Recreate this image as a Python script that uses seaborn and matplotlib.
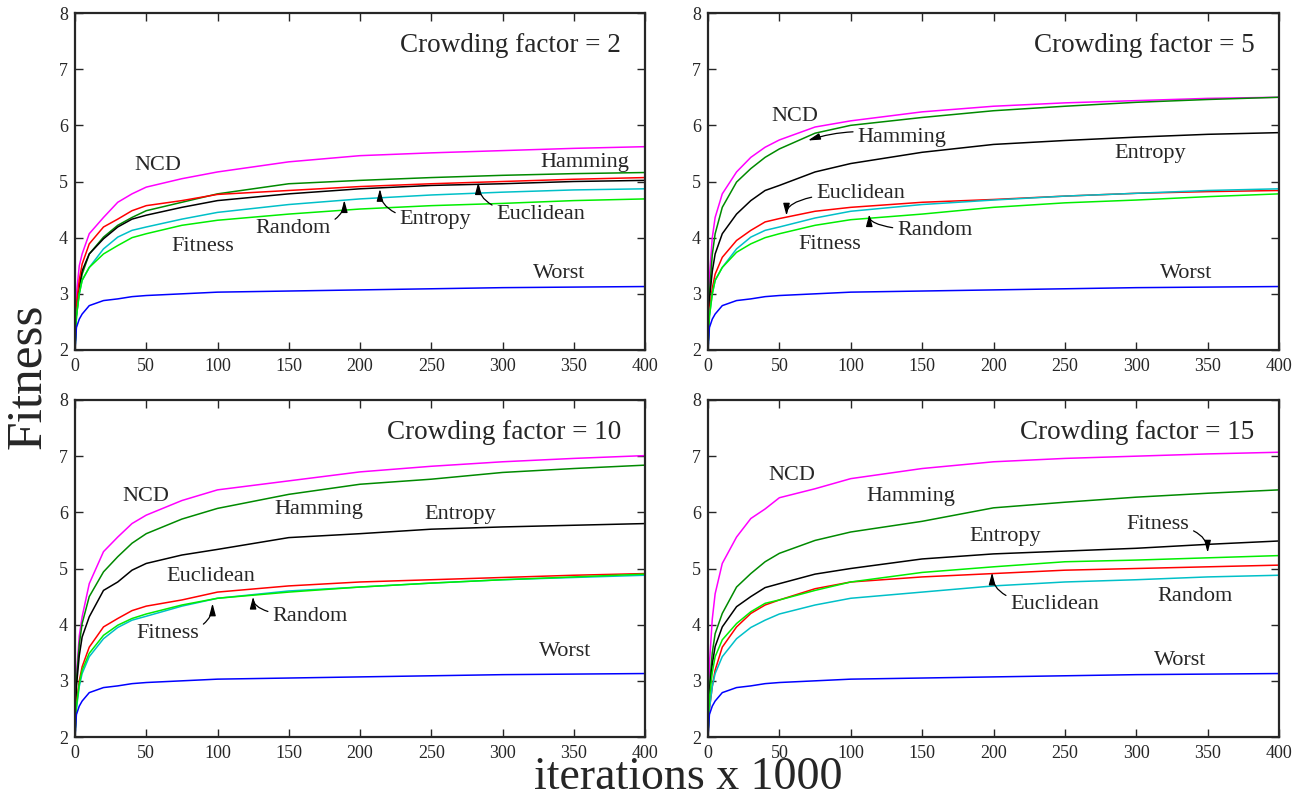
import matplotlib
matplotlib.use("Agg")
import matplotlib.pyplot as plt
import seaborn as sns
import pandas as pd

# ---------------- data ----------------
ITER = [0, 1, 3, 5, 10, 20, 30, 40, 50, 75, 100, 150, 200, 250, 300, 350, 400]
METHODS = ["NCD", "Hamming", "Entropy", "Euclidean", "Random", "Fitness", "Worst"]
COLORS = {"NCD": "#ff00ff", "Hamming": "#008a00", "Entropy": "#000000",
          "Euclidean": "#ff0000", "Random": "#00c0c8", "Fitness": "#00ee00",
          "Worst": "#0000ff"}

WORST = [2.0, 2.4, 2.55, 2.64, 2.79, 2.88, 2.91, 2.95, 2.97, 3.0, 3.03, 3.05, 3.07, 3.09, 3.11, 3.12, 3.13]

CF2_NCD = [2.0, 3.0, 3.5, 3.71, 4.07, 4.36, 4.63, 4.78, 4.90, 5.05, 5.17, 5.35, 5.46, 5.51, 5.55, 5.59, 5.62]
CF2_HAMMING = [2.0, 2.6, 3.05, 3.35, 3.71, 4.01, 4.22, 4.36, 4.48, 4.63, 4.78, 4.96, 5.02, 5.07, 5.11, 5.14, 5.16]
CF2_ENTROPY = [2.0, 2.7, 3.15, 3.41, 3.71, 3.98, 4.19, 4.33, 4.40, 4.54, 4.66, 4.78, 4.87, 4.93, 4.96, 5.0, 5.02]
CF2_EUCLIDEAN = [2.0, 2.8, 3.25, 3.53, 3.89, 4.19, 4.33, 4.48, 4.57, 4.66, 4.77, 4.84, 4.91, 4.96, 5.0, 5.04, 5.07]
CF2_RANDOM = [2.0, 2.6, 3.0, 3.24, 3.47, 3.80, 4.01, 4.13, 4.19, 4.33, 4.45, 4.59, 4.69, 4.76, 4.81, 4.85, 4.87]
CF2_FITNESS = [2.0, 2.6, 3.0, 3.24, 3.47, 3.71, 3.86, 4.0, 4.07, 4.22, 4.31, 4.42, 4.51, 4.57, 4.61, 4.66, 4.69]

CF5_NCD = [2.0, 3.3, 4.0, 4.36, 4.78, 5.17, 5.43, 5.61, 5.74, 5.97, 6.08, 6.24, 6.34, 6.40, 6.44, 6.48, 6.50]
CF5_HAMMING = [2.0, 3.0, 3.7, 4.07, 4.54, 4.99, 5.23, 5.43, 5.58, 5.86, 6.0, 6.14, 6.26, 6.34, 6.41, 6.46, 6.50]
CF5_ENTROPY = [2.0, 2.9, 3.4, 3.71, 4.07, 4.42, 4.66, 4.84, 4.93, 5.17, 5.32, 5.52, 5.66, 5.73, 5.79, 5.84, 5.87]
CF5_EUCLIDEAN = [2.0, 2.7, 3.1, 3.35, 3.65, 3.95, 4.13, 4.28, 4.34, 4.47, 4.54, 4.63, 4.68, 4.74, 4.79, 4.82, 4.84]
CF5_RANDOM = [2.0, 2.6, 3.0, 3.24, 3.47, 3.80, 4.01, 4.13, 4.19, 4.35, 4.47, 4.59, 4.67, 4.74, 4.79, 4.84, 4.87]
CF5_FITNESS = [2.0, 2.6, 3.0, 3.24, 3.47, 3.74, 3.89, 4.0, 4.07, 4.22, 4.32, 4.42, 4.54, 4.62, 4.67, 4.73, 4.78]

CF10_NCD = [2.0, 3.1, 3.8, 4.14, 4.73, 5.30, 5.56, 5.80, 5.95, 6.21, 6.40, 6.56, 6.72, 6.82, 6.90, 6.96, 7.01]
CF10_HAMMING = [2.0, 3.0, 3.65, 4.02, 4.50, 4.94, 5.21, 5.45, 5.62, 5.88, 6.07, 6.32, 6.50, 6.59, 6.71, 6.78, 6.84]
CF10_ENTROPY = [2.0, 2.9, 3.45, 3.78, 4.14, 4.61, 4.76, 4.97, 5.09, 5.24, 5.34, 5.55, 5.62, 5.70, 5.74, 5.77, 5.80]
CF10_EUCLIDEAN = [2.0, 2.6, 3.0, 3.25, 3.60, 3.96, 4.11, 4.25, 4.33, 4.44, 4.58, 4.69, 4.76, 4.80, 4.84, 4.88, 4.91]
CF10_RANDOM = [2.0, 2.5, 2.9, 3.13, 3.43, 3.75, 3.95, 4.08, 4.15, 4.33, 4.47, 4.60, 4.67, 4.74, 4.80, 4.84, 4.88]
CF10_FITNESS = [2.0, 2.55, 2.95, 3.19, 3.49, 3.81, 3.99, 4.11, 4.19, 4.35, 4.47, 4.58, 4.67, 4.74, 4.80, 4.85, 4.90]

CF15_NCD = [2.0, 3.3, 4.1, 4.55, 5.09, 5.56, 5.89, 6.06, 6.26, 6.42, 6.60, 6.78, 6.90, 6.96, 7.00, 7.04, 7.07]
CF15_HAMMING = [2.0, 2.9, 3.5, 3.84, 4.20, 4.67, 4.91, 5.12, 5.27, 5.50, 5.65, 5.84, 6.08, 6.18, 6.27, 6.34, 6.40]
CF15_ENTROPY = [2.0, 2.8, 3.3, 3.61, 3.96, 4.32, 4.50, 4.66, 4.73, 4.90, 5.0, 5.17, 5.26, 5.31, 5.36, 5.43, 5.49]
CF15_EUCLIDEAN = [2.0, 2.5, 2.9, 3.19, 3.60, 3.96, 4.20, 4.35, 4.44, 4.64, 4.76, 4.85, 4.91, 4.97, 5.0, 5.03, 5.06]
CF15_RANDOM = [2.0, 2.5, 2.9, 3.13, 3.43, 3.75, 3.95, 4.08, 4.19, 4.35, 4.47, 4.58, 4.69, 4.76, 4.80, 4.85, 4.88]
CF15_FITNESS = [2.0, 2.7, 3.15, 3.43, 3.73, 4.02, 4.23, 4.38, 4.44, 4.61, 4.76, 4.93, 5.03, 5.12, 5.15, 5.19, 5.23]

CROWDING = [2, 5, 10, 15]
PANELS = [
    [CF2_NCD, CF2_HAMMING, CF2_ENTROPY, CF2_EUCLIDEAN, CF2_RANDOM, CF2_FITNESS, WORST],
    [CF5_NCD, CF5_HAMMING, CF5_ENTROPY, CF5_EUCLIDEAN, CF5_RANDOM, CF5_FITNESS, WORST],
    [CF10_NCD, CF10_HAMMING, CF10_ENTROPY, CF10_EUCLIDEAN, CF10_RANDOM, CF10_FITNESS, WORST],
    [CF15_NCD, CF15_HAMMING, CF15_ENTROPY, CF15_EUCLIDEAN, CF15_RANDOM, CF15_FITNESS, WORST],
]

# plain labels: (text, x, y)
PLAIN = [
    [("NCD", 58, 5.28), ("Hamming", 358, 5.34), ("Fitness", 90, 3.85), ("Worst", 340, 3.36)],
    [("NCD", 61, 6.15), ("Entropy", 310, 5.50), ("Fitness", 85, 3.87), ("Worst", 335, 3.36)],
    [("NCD", 50, 6.29), ("Hamming", 171, 6.05), ("Entropy", 270, 5.97),
     ("Euclidean", 95, 4.85), ("Worst", 344, 3.53)],
    [("NCD", 59, 6.65), ("Hamming", 142, 6.28), ("Entropy", 208, 5.57),
     ("Random", 341, 4.50), ("Worst", 331, 3.36)],
]
# arrow labels: (text, text_x, text_y, tip_x, tip_y, connection)
ARROWS = [
    [("Random", 153, 4.16, 189, 4.67, "angle3,angleA=0,angleB=90"),
     ("Entropy", 253, 4.32, 214, 4.87, "angle3,angleA=0,angleB=90"),
     ("Euclidean", 327, 4.42, 283, 4.99, "angle3,angleA=0,angleB=90")],
    [("Hamming", 136, 5.79, 70, 5.73, "arc3,rad=0.15"),
     ("Euclidean", 107, 4.79, 55, 4.39, "angle3,angleA=0,angleB=90"),
     ("Random", 159, 4.13, 113, 4.42, "angle3,angleA=0,angleB=90")],
    [("Fitness", 65, 3.85, 96.5, 4.38, "angle3,angleA=0,angleB=90"),
     ("Random", 165, 4.15, 125, 4.50, "angle3,angleA=0,angleB=90")],
    [("Fitness", 315, 5.78, 350, 5.28, "angle3,angleA=0,angleB=90"),
     ("Euclidean", 243, 4.36, 199, 4.93, "angle3,angleA=0,angleB=90")],
]

# ---------------- style ----------------
sns.set_style("ticks")
plt.rcParams["font.family"] = ["Liberation Serif", "DejaVu Serif"]
plt.rcParams["axes.linewidth"] = 1.6

fig = plt.figure(figsize=(13.03, 8.0), dpi=100)
W, H = 1303.0, 800.0
boxes = [(75, 645, 13, 350), (708, 1279, 13, 350),
         (75, 645, 400, 737), (708, 1279, 400, 737)]

for i, (l, r, t, b) in enumerate(boxes):
    ax = fig.add_axes([l / W, 1 - b / H, (r - l) / W, (b - t) / H])
    rows = []
    for m, vals in zip(METHODS, PANELS[i]):
        for xv, yv in zip(ITER, vals):
            rows.append({"iter": xv, "fitness": yv, "method": m})
    df = pd.DataFrame(rows)
    sns.lineplot(data=df, x="iter", y="fitness", hue="method", hue_order=METHODS,
                 palette=COLORS, linewidth=1.1, legend=False, ax=ax, estimator=None)
    ax.set_xlim(0, 400)
    ax.set_ylim(2, 8)
    ax.set_xticks(range(0, 401, 50))
    ax.set_yticks(range(2, 9))
    ax.set_xlabel("")
    ax.set_ylabel("")
    ax.tick_params(direction="in", top=True, right=True, length=6, width=1,
                   labelsize=13, pad=5)
    ax.tick_params(axis="x", pad=6)
    for s in ax.spines.values():
        s.set_linewidth(1.6)

    ax.text(383, 7.42, f"Crowding factor = {CROWDING[i]}", fontsize=19.5,
            ha="right", va="center")
    for txt, x, y in PLAIN[i]:
        ax.text(x, y, txt, fontsize=16, ha="center", va="center")
    for txt, x, y, tx, ty, conn in ARROWS[i]:
        ax.annotate(txt, xy=(tx, ty), xytext=(x, y), fontsize=16,
                    ha="center", va="center",
                    arrowprops=dict(arrowstyle="-|>,head_length=0.45,head_width=0.12",
                                    color="black", lw=0.9, shrinkA=1, shrinkB=0,
                                    connectionstyle=conn))

fig.text(28 / W, 1 - 376 / H, "Fitness", fontsize=37, rotation=90,
         ha="center", va="center")
fig.text(688 / W, 1 - 789 / H, "iterations x 1000", fontsize=33,
         ha="center", va="baseline")

fig.savefig("out.png", dpi=100)
